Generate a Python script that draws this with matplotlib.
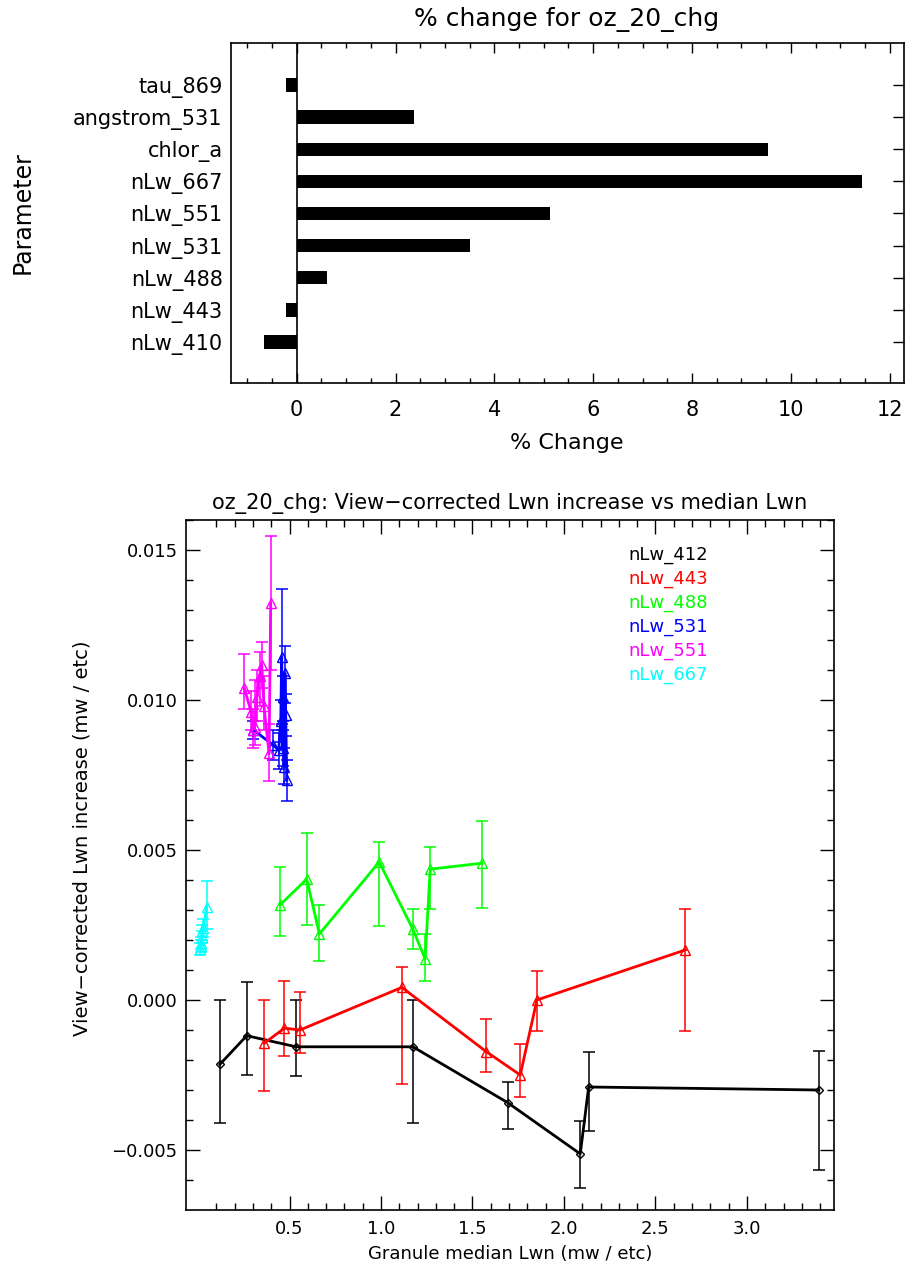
import numpy as np
import matplotlib
matplotlib.use("Agg")
import matplotlib.pyplot as plt
from matplotlib.ticker import FixedLocator, FuncFormatter

plt.rcParams['font.family'] = ['DejaVu Sans']

# ---------------- data: top bar chart ----------------
params = ["nLw_410", "nLw_443", "nLw_488", "nLw_531", "nLw_551",
          "nLw_667", "chlor_a", "angstrom_531", "tau_869"]
pct_change = [-0.66, -0.21, 0.61, 3.50, 5.12, 11.45, 9.54, 2.37, -0.21]

# ---------------- data: bottom scatter/error chart ----------------
x412 = [0.12, 0.266, 0.536, 1.174, 1.692, 2.089, 2.135, 3.393]
y412 = [-0.00214, -0.00119, -0.00156, -0.00156, -0.00342, -0.00513, -0.00290, -0.00300]
lo412 = [-0.0041, -0.0025, -0.00253, -0.0041, -0.0043, -0.00626, -0.00436, -0.00567]
hi412 = [0.0000, 0.00059, 0.0000, 0.0000, -0.00274, -0.00403, -0.00174, -0.00169]

x443 = [0.362, 0.472, 0.557, 1.114, 1.575, 1.761, 1.852, 2.664]
y443 = [-0.00144, -0.00094, -0.0010, 0.00042, -0.00172, -0.0025, 0.0000, 0.00167]
lo443 = [-0.00303, -0.00187, -0.00176, -0.00281, -0.00241, -0.00322, -0.00102, -0.00102]
hi443 = [0.0000, 0.00063, 0.00028, 0.00111, -0.00063, -0.00148, 0.00098, 0.00303]

x488 = [0.448, 0.594, 0.663, 0.99, 1.174, 1.241, 1.269, 1.551]
y488 = [0.00317, 0.00403, 0.0022, 0.0046, 0.00236, 0.00137, 0.00436, 0.00456]
lo488 = [0.00214, 0.0025, 0.0013, 0.00248, 0.0017, 0.00063, 0.00303, 0.00308]
hi488 = [0.00442, 0.00558, 0.00317, 0.00528, 0.00303, 0.00219, 0.00509, 0.00598]

x531 = [0.302, 0.411, 0.440, 0.452, 0.457, 0.462, 0.466, 0.470, 0.475, 0.479, 0.485]
y531 = [0.0090, 0.0085, 0.00833, 0.0093, 0.01144, 0.0084, 0.01011, 0.00778, 0.01089, 0.0095, 0.00733]
lo531 = [0.0087, 0.0080, 0.0077, 0.0086, 0.0092, 0.0078, 0.0093, 0.0072, 0.0099, 0.0088, 0.00664]
hi531 = [0.0093, 0.0090, 0.0089, 0.0100, 0.01369, 0.0090, 0.0108, 0.0084, 0.0118, 0.0102, 0.0080]

x551 = [0.253, 0.290, 0.300, 0.311, 0.322, 0.336, 0.348, 0.360, 0.388, 0.397]
y551 = [0.01039, 0.00960, 0.00900, 0.00911, 0.01010, 0.01080, 0.01117, 0.00980, 0.00822, 0.01322]
lo551 = [0.0097, 0.0090, 0.0084, 0.0085, 0.0093, 0.0098, 0.0104, 0.0090, 0.0073, 0.0110]
hi551 = [0.01152, 0.0103, 0.0097, 0.01067, 0.0110, 0.0116, 0.01194, 0.0108, 0.0092, 0.01547]

x667 = [0.012, 0.018, 0.015, 0.022, 0.020, 0.028, 0.047]
y667 = [0.0017, 0.0019, 0.0018, 0.0021, 0.0023, 0.0024, 0.0031]
lo667 = [0.0015, 0.0017, 0.0016, 0.0019, 0.0020, 0.0021, 0.00237]
hi667 = [0.0019, 0.0021, 0.0020, 0.0023, 0.0025, 0.0027, 0.00398]

series_names = ["nLw_412", "nLw_443", "nLw_488", "nLw_531", "nLw_551", "nLw_667"]
series_colors = ["#000000", "#FF0000", "#00FF00", "#0000FF", "#FF00FF", "#00FFFF"]

# ---------------- figure ----------------
W, H = 907, 1266
fig = plt.figure(figsize=(W / 100, H / 100), dpi=100)
fig.patch.set_facecolor("white")

def fx(px):
    return px / W

def fy(py):
    return 1 - py / H

# ---- top axes ----
axL, axR, axT, axB = 231, 904, 43, 383
ax1 = fig.add_axes([fx(axL), fy(axB), (axR - axL) / W, (axB - axT) / H])
ypos = np.arange(len(params))
ax1.barh(ypos, pct_change, height=0.42, color="black")
ax1.axvline(0, color="black", lw=1.2)
ax1.set_xlim(-1.33, 12.29)
ax1.set_ylim(-1.28, 9.31)
ax1.xaxis.set_major_locator(FixedLocator(np.arange(0, 13, 2)))
ax1.xaxis.set_minor_locator(FixedLocator(np.arange(-1.0, 12.01, 0.5)))
ax1.set_xticklabels([str(v) for v in range(0, 13, 2)])
ax1.set_yticks(ypos)
ax1.set_yticklabels(params)
ax1.tick_params(axis="x", which="major", direction="in", length=7, width=1,
                top=True, bottom=True, labelsize=15, pad=12)
ax1.tick_params(axis="x", which="minor", direction="in", length=3.5, width=1,
                top=True, bottom=True)
ax1.tick_params(axis="y", which="major", direction="in", length=8, width=1,
                left=False, right=True, labelsize=15, pad=6)
for s in ax1.spines.values():
    s.set_linewidth(1.2)

fig.text(fx(567), fy(19), "% change for oz_20_chg", ha="center", va="center", fontsize=18)
fig.text(fx(567), fy(443), "% Change", ha="center", va="center", fontsize=16)
fig.text(fx(23), fy(213), "Parameter", ha="center", va="center", rotation=90, fontsize=17)

# ---- bottom axes ----
bL, bR, bT, bB = 186, 834, 520, 1210
ax2 = fig.add_axes([fx(bL), fy(bB), (bR - bL) / W, (bB - bT) / H])
xs = [x412, x443, x488, x531, x551, x667]
ys = [y412, y443, y488, y531, y551, y667]
los = [lo412, lo443, lo488, lo531, lo551, lo667]
his = [hi412, hi443, hi488, hi531, hi551, hi667]
for i, (x, y, lo, hi, c) in enumerate(zip(xs, ys, los, his, series_colors)):
    x = np.array(x); y = np.array(y); lo = np.array(lo); hi = np.array(hi)
    ax2.errorbar(x, y, yerr=[y - lo, hi - y], fmt="none", ecolor=c,
                 elinewidth=1.1, capsize=4, capthick=1.1, zorder=2)
    mk = "D" if i == 0 else "^"
    ms = 4.5 if i == 0 else 6.5
    ax2.plot(x, y, color=c, lw=2, marker=mk, ms=ms, mfc="none", mec=c, mew=1, zorder=3)

ax2.set_xlim(-0.066, 3.476)
ax2.set_ylim(-0.007, 0.016)
ax2.xaxis.set_major_locator(FixedLocator([0.5, 1.0, 1.5, 2.0, 2.5, 3.0]))
minor_x = [v for v in np.round(np.arange(0.1, 3.41, 0.1), 2) if abs(v * 2 - round(v * 2)) > 1e-6]
ax2.xaxis.set_minor_locator(FixedLocator(minor_x))
ax2.xaxis.set_major_formatter(FuncFormatter(lambda v, p: f"{v:.1f}"))
ax2.yaxis.set_major_locator(FixedLocator([-0.005, 0.0, 0.005, 0.010, 0.015]))
ax2.yaxis.set_minor_locator(FixedLocator(np.round(np.arange(-0.006, 0.0161, 0.001), 4)))
ax2.yaxis.set_major_formatter(FuncFormatter(
    lambda v, p: ("\u2212" if v < -1e-9 else "") + f"{abs(v):.3f}"))
ax2.tick_params(axis="both", which="major", direction="in", length=10, width=1,
                top=True, bottom=True, left=True, right=True, labelsize=13)
ax2.tick_params(axis="both", which="minor", direction="in", length=5, width=1,
                top=True, bottom=True, left=True, right=True)
ax2.tick_params(axis="x", which="major", pad=7)
ax2.tick_params(axis="y", which="major", pad=6)
for s in ax2.spines.values():
    s.set_linewidth(1.2)

fig.text(fx(510), fy(504), "oz_20_chg: View\u2212corrected Lwn increase vs median Lwn",
         ha="center", va="center", fontsize=15)
fig.text(fx(510), fy(1254), "Granule median Lwn (mw / etc)", ha="center", va="center", fontsize=13)
fig.text(fx(82), fy(838), "View\u2212corrected Lwn increase (mw / etc)", ha="center",
         va="center", rotation=90, fontsize=14)

for i, (name, c) in enumerate(zip(series_names, series_colors)):
    ax2.text(0.682, 0.949 - i * 0.0348, name, color=c, transform=ax2.transAxes,
             ha="left", va="center", fontsize=13)

fig.savefig("out.png", dpi=100, facecolor="white")
